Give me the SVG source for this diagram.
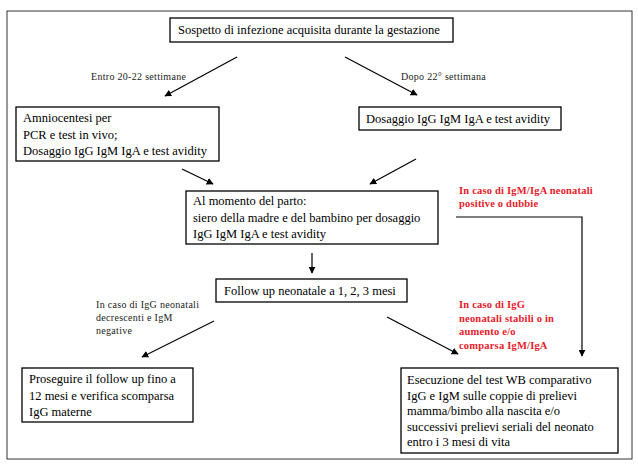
<svg xmlns="http://www.w3.org/2000/svg" width="638" height="473" viewBox="0 0 638 473">
<defs>
<marker id="ah" viewBox="0 0 10 10" refX="9" refY="5" markerWidth="7" markerHeight="7" orient="auto" markerUnits="userSpaceOnUse">
<path d="M0,0 L10,5 L0,10 z" fill="#000"/>
</marker>
<style>
.box{fill:#fff;stroke:#000;stroke-width:1.3}
.t{font-family:"Liberation Serif","Times New Roman",serif;font-size:12.5px;fill:#000}
.s{font-family:"Liberation Serif","Times New Roman",serif;font-size:10px;letter-spacing:0.3px;fill:#222}
.r{font-family:"Liberation Serif","Times New Roman",serif;font-size:10.5px;letter-spacing:0.2px;font-weight:bold;fill:#e8202a}
.c{fill:none;stroke:#000;stroke-width:1.2;marker-end:url(#ah)}
</style>
</defs>
<rect width="638" height="473" fill="#fff"/>
<rect x="7" y="11" width="625" height="448" fill="none" stroke="#333" stroke-width="1"/>
<g id="connectors">
<line class="c" x1="237" y1="57" x2="165" y2="96"/>
<line class="c" x1="345" y1="57" x2="417" y2="95"/>
<line class="c" x1="182" y1="169" x2="213" y2="184"/>
<line class="c" x1="416" y1="159" x2="370" y2="184"/>
<polyline class="c" points="456,217 582,217 582,356"/>
<line class="c" x1="312" y1="253" x2="312" y2="273"/>
<line class="c" x1="214" y1="321" x2="142" y2="357"/>
<line class="c" x1="387" y1="317" x2="458" y2="354"/>
</g>
<g id="labels">
<text class="s" x="91" y="80">Entro 20-22 settimane</text>
<text class="s" x="401" y="80">Dopo 22° settimana</text>
<text class="r" x="459" y="194">In caso di IgM/IgA neonatali</text>
<text class="r" x="459" y="207">positive o dubbie</text>
<text class="s" x="96" y="308">In caso di IgG neonatali</text>
<text class="s" x="96" y="321">decrescenti e IgM</text>
<text class="s" x="96" y="334">negative</text>
<text class="r" x="459" y="308">In caso di IgG</text>
<text class="r" x="459" y="322">neonatali stabili o in</text>
<text class="r" x="459" y="335">aumento e/o</text>
<text class="r" x="459" y="349">comparsa IgM/IgA</text>
</g>
<g id="n1">
<rect class="box" x="170" y="18" width="283" height="24"/>
<text class="t" x="178" y="34">Sospetto di infezione acquisita durante la gestazione</text>
</g>
<g id="n2">
<rect class="box" x="16" y="107" width="203" height="54"/>
<text class="t" x="23" y="122">Amniocentesi per</text>
<text class="t" x="23" y="139">PCR e test in vivo;</text>
<text class="t" x="23" y="155">Dosaggio IgG IgM IgA e test avidity</text>
</g>
<g id="n3">
<rect class="box" x="359" y="107" width="202" height="23"/>
<text class="t" x="366" y="123">Dosaggio IgG IgM IgA e test avidity</text>
</g>
<g id="n4">
<rect class="box" x="186" y="191" width="252" height="53"/>
<text class="t" x="193" y="205">Al momento del parto:</text>
<text class="t" x="193" y="222">siero della madre e del bambino per dosaggio</text>
<text class="t" x="193" y="238">IgG IgM IgA e test avidity</text>
</g>
<g id="n5">
<rect class="box" x="216" y="279" width="191" height="23"/>
<text class="t" x="224" y="295">Follow up neonatale a 1, 2, 3 mesi</text>
</g>
<g id="n6">
<rect class="box" x="22" y="368" width="171" height="54"/>
<text class="t" x="29" y="383">Proseguire il follow up fino a</text>
<text class="t" x="29" y="400">12 mesi e verifica scomparsa</text>
<text class="t" x="29" y="416">IgG materne</text>
</g>
<g id="n7">
<rect class="box" x="401" y="368" width="217" height="85"/>
<text class="t" x="407" y="384">Esecuzione del test WB comparativo</text>
<text class="t" x="407" y="400">IgG e IgM sulle coppie di prelievi</text>
<text class="t" x="407" y="415">mamma/bimbo alla nascita e/o</text>
<text class="t" x="407" y="431">successivi prelievi seriali del neonato</text>
<text class="t" x="407" y="446">entro i 3 mesi di vita</text>
</g>
</svg>
